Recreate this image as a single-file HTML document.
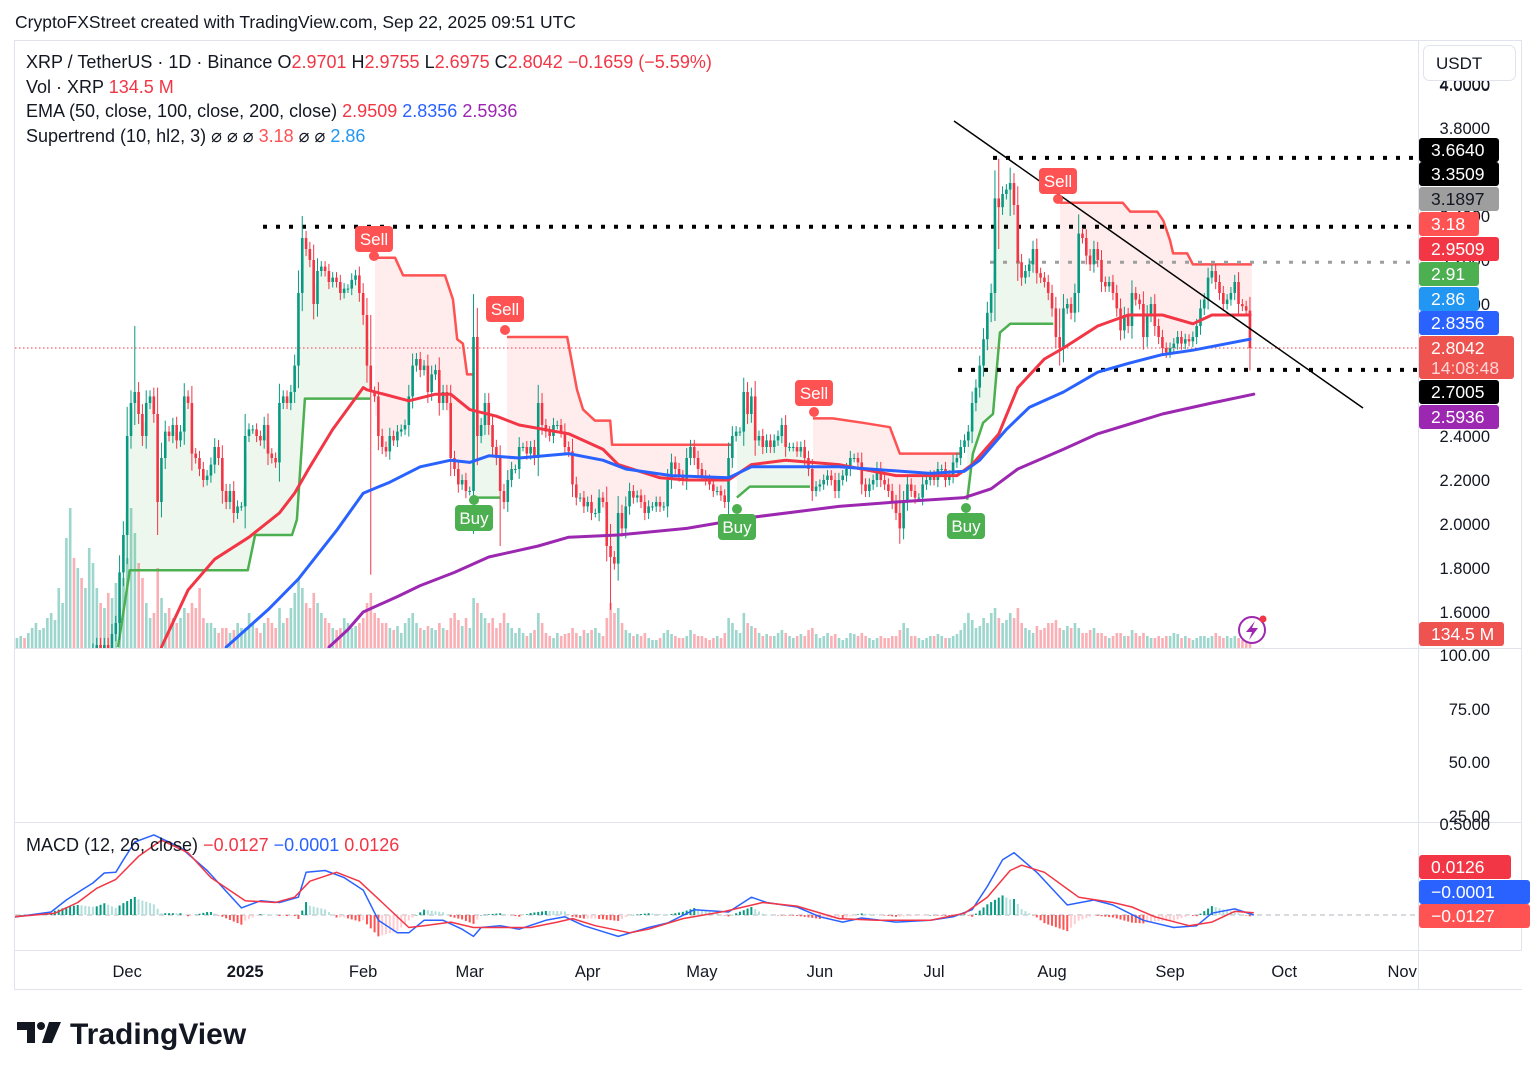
<!DOCTYPE html>
<html><head><meta charset="utf-8"><style>
html,body{margin:0;padding:0;background:#fff;}
body{width:1536px;height:1077px;overflow:hidden;font-family:"Liberation Sans",sans-serif;}
svg text{font-family:"Liberation Sans",sans-serif;}
</style></head><body>
<svg id="chart" width="1536" height="1077" viewBox="0 0 1536 1077" xmlns="http://www.w3.org/2000/svg">
<defs>
<clipPath id="mainClip"><rect x="15" y="40" width="1403" height="608"/></clipPath>
<clipPath id="macdClip"><rect x="15" y="822" width="1403" height="128"/></clipPath>
</defs>
<text x="15" y="28" font-size="17.5" fill="#131722">CryptoFXStreet created with TradingView.com, Sep 22, 2025 09:51 UTC</text>
<rect x="14.5" y="40.5" width="1507" height="949" fill="none" stroke="#e0e3eb"/>
<line x1="1418.5" y1="40" x2="1418.5" y2="990" stroke="#e0e3eb"/>
<line x1="15" y1="648.5" x2="1522" y2="648.5" stroke="#e0e3eb"/>
<line x1="15" y1="822.5" x2="1522" y2="822.5" stroke="#e0e3eb"/>
<line x1="15" y1="950.5" x2="1522" y2="950.5" stroke="#e0e3eb"/>
<g id="axisG"></g>
<g id="mainG" clip-path="url(#mainClip)"></g>
<g id="macdG" clip-path="url(#macdClip)"></g>
<g id="badgeG"></g>
<g id="legendG"></g>
<g>
<path d="M17 1022 H35 V1043 H27 V1030 H17 Z" fill="#131722"/>
<circle cx="41" cy="1026" r="4" fill="#131722"/>
<path d="M49 1022 H61 L52 1043 H42 Z" fill="#131722"/>
<text x="70" y="1044" font-size="30" font-weight="bold" fill="#131722">TradingView</text>
</g>
</svg>
<script>
// ---------- DATA ----------
const nov=[0.50,0.50,0.51,0.50,0.51,0.54,0.55,0.56,0.60,0.62,0.65,0.68,0.72,0.73,0.90,1.10,1.05,1.15,1.10,1.10,1.25,1.40,1.45,1.40,1.45,1.40,1.50,1.55,1.78,1.95];
const dec=[2.40,2.55,2.60,2.50,2.40,2.55,2.58,2.50,2.10,2.30,2.42,2.40,2.45,2.38,2.42,2.58,2.55,2.32,2.30,2.25,2.20,2.22,2.27,2.35,2.30,2.15,2.10,2.15,2.05,2.08,2.08];
const jan=[2.40,2.43,2.43,2.40,2.38,2.45,2.32,2.30,2.28,2.55,2.58,2.55,2.60,2.72,3.05,3.30,3.25,3.20,3.00,3.15,3.17,3.15,3.10,3.12,3.10,3.05,3.07,3.07,3.11,3.13,3.05];
const feb=[2.95,2.72,2.60,2.58,2.40,2.35,2.33,2.40,2.38,2.42,2.43,2.45,2.58,2.72,2.75,2.70,2.72,2.60,2.68,2.70,2.55,2.60,2.55,2.30,2.25,2.18,2.20,2.15];
const mar=[2.15,2.85,2.40,2.45,2.55,2.45,2.35,2.30,2.15,2.10,2.20,2.25,2.25,2.35,2.35,2.32,2.35,2.30,2.55,2.45,2.42,2.40,2.45,2.45,2.42,2.35,2.33,2.18,2.12,2.12,2.08];
const apr=[2.10,2.05,2.05,2.12,2.10,1.90,1.85,1.82,2.05,1.98,2.08,2.15,2.12,2.13,2.10,2.05,2.08,2.08,2.10,2.08,2.08,2.20,2.28,2.25,2.22,2.20,2.30,2.35,2.30,2.25];
const may=[2.22,2.20,2.18,2.15,2.15,2.13,2.10,2.30,2.40,2.42,2.42,2.60,2.50,2.58,2.38,2.40,2.35,2.38,2.35,2.38,2.40,2.45,2.35,2.35,2.35,2.33,2.35,2.30,2.25,2.15,2.17];
const jun=[2.18,2.20,2.22,2.20,2.15,2.20,2.22,2.25,2.30,2.30,2.28,2.18,2.15,2.18,2.20,2.25,2.20,2.18,2.15,2.10,2.05,1.98,2.10,2.18,2.15,2.12,2.12,2.18,2.20,2.22];
const jul=[2.20,2.25,2.25,2.20,2.22,2.28,2.30,2.35,2.38,2.42,2.55,2.62,2.72,2.84,2.96,3.05,3.48,3.44,3.50,3.52,3.55,3.45,3.19,3.12,3.15,3.18,3.25,3.14,3.12,3.10,3.05];
const aug=[2.98,2.85,2.80,2.98,3.00,2.96,3.05,3.32,3.30,3.22,3.18,3.25,3.20,3.10,3.08,3.10,3.05,2.98,2.88,2.95,2.90,3.05,3.02,3.00,2.85,2.95,3.00,2.90,2.85,2.80,2.78];
const sep=[2.80,2.82,2.85,2.82,2.84,2.83,2.85,2.90,2.98,3.02,3.12,3.15,3.10,3.05,3.00,3.02,3.05,3.10,3.00,2.99,2.97,2.80];
const closes=[].concat(nov,dec,jan,feb,mar,apr,may,jun,jul,aug,sep);
// notable wick extremes: [dayIndex, high, low]
const extremes=[[32,2.90,2.45],[38,2.52,1.95],[76,3.40,3.10],[94,2.95,1.77],[121,3.00,2.10],[128,2.30,1.90],[138,2.59,2.30],[157,2.00,1.61],[233,2.18,1.91],[259,3.66,3.25],[262,3.62,3.40],[275,2.98,2.72],[325,2.9755,2.6975]];
const volumes=[8,10,12,10,15,20,25,18,20,30,35,28,60,45,110,140,90,80,70,60,100,85,60,45,40,55,50,65,40,70,
90,140,115,85,70,45,30,35,80,50,35,40,30,25,30,40,35,45,40,60,30,25,25,20,15,20,20,15,18,25,20,
20,35,25,20,15,25,30,25,20,40,25,30,40,55,70,60,45,40,55,45,35,30,25,20,18,20,30,25,20,22,25,
30,45,55,35,30,25,25,20,18,22,15,25,30,35,25,20,18,22,20,18,25,20,18,30,35,28,22,30,
20,50,45,35,30,25,30,20,25,35,25,20,15,20,15,12,15,18,35,25,15,12,10,15,12,14,15,20,15,12,18,
15,18,20,15,12,30,45,35,40,25,18,15,12,14,12,15,10,8,8,10,15,18,14,12,10,10,12,18,14,12,
12,10,8,10,12,10,15,30,25,18,15,35,25,22,20,15,12,14,12,12,15,18,15,12,10,12,14,12,18,20,14,
10,12,15,12,14,10,8,10,15,14,12,15,12,10,8,10,12,10,10,12,12,18,25,20,12,12,10,8,10,12,
12,14,12,10,10,12,14,18,25,35,28,20,22,30,25,35,40,30,25,28,35,30,40,25,20,18,15,22,18,20,25,
25,28,20,18,22,20,25,20,15,15,18,20,15,15,12,10,12,15,15,12,12,18,15,12,15,12,10,10,12,10,12,
12,15,14,10,12,10,8,10,12,12,10,12,15,12,10,12,10,12,10,8,8,12];
const ema50Days=[39,46,53,62,70,74,78,84,92,93,104,111,115,120,127,133,146,155,159,170,177,188,194,203,217,232,248,252,259,264,271,276,285,293,302,310,315,325];
const ema50Vals=[1.44,1.70,1.84,1.94,2.05,2.14,2.26,2.43,2.62,2.61,2.56,2.59,2.59,2.52,2.49,2.45,2.41,2.34,2.27,2.21,2.20,2.20,2.27,2.29,2.27,2.22,2.22,2.27,2.41,2.62,2.75,2.80,2.90,2.95,2.95,2.91,2.95,2.95];
const ema100Days=[56,67,75,85,92,99,107,115,120,125,133,146,155,161,173,188,194,217,241,250,254,261,267,276,285,293,302,310,325];
const ema100Vals=[1.44,1.61,1.75,1.97,2.14,2.19,2.26,2.29,2.28,2.31,2.30,2.32,2.29,2.25,2.22,2.21,2.26,2.26,2.23,2.24,2.29,2.43,2.53,2.60,2.69,2.73,2.77,2.79,2.84];
const ema200Days=[83,88,92,101,107,116,125,138,146,159,177,194,217,232,250,257,264,276,285,302,315,326];
const ema200Vals=[1.44,1.52,1.60,1.67,1.72,1.78,1.85,1.90,1.94,1.95,1.98,2.03,2.08,2.10,2.12,2.16,2.25,2.34,2.41,2.50,2.55,2.59];
const stUp1Days=[27.6,30.7,61.7,63.6,73.3,74.6,76.7,93.8], stUp1Vals=[1.44,1.79,1.79,1.95,1.95,2.02,2.57,2.57];
const stDn1Days=[95.1,100.4,102.5,113.5,115.6,116.7,118.2,119.3,120.9], stDn1Vals=[3.21,3.21,3.13,3.13,3.02,2.84,2.82,2.68,2.68];
const stUp2Days=[120.9,128], stUp2Vals=[2.12,2.12];
const stDn2Days=[129.8,145.6,148.2,149.8,152.9,156.9,157.4,188.9], stDn2Vals=[2.85,2.85,2.61,2.52,2.47,2.47,2.36,2.36];
const stUp3Days=[190.2,193.6,209.4], stUp3Vals=[2.12,2.17,2.17];
const stDn3Days=[210.2,215.4,223.3,230.4,233,248.8], stDn3Vals=[2.48,2.48,2.46,2.44,2.32,2.32];
const stUp4Days=[250.7,252.2,254.9,257.5,259.3,262,273.3], stUp4Vals=[2.11,2.32,2.46,2.50,2.87,2.91,2.91];
const stDn4Days=[275.1,291.6,293.5,300.6,302.2,304,304.8,308.5,310,325.5], stDn4Vals=[3.46,3.46,3.42,3.42,3.38,3.29,3.23,3.23,3.18,3.18];
const macdDays=[0.5,10,14,18,21,24,27,29,32,37,44,51,60,65,70,75,77,82,87,92,96,101,104,108,113,118,121,123,128,133,140,145,150,156,159,167,172,179,188,194,198,206,212,218,223,232,241,247,252,256,260,263,269,277,284,289,297,305,311,315,321,326];
const macdVals=[-0.011,0.017,0.084,0.14,0.18,0.236,0.24,0.31,0.41,0.45,0.38,0.25,0.04,0.08,0.07,0.10,0.24,0.25,0.21,0.14,-0.03,-0.10,-0.10,-0.03,-0.03,-0.08,-0.12,-0.07,-0.06,-0.08,-0.03,-0.01,-0.06,-0.10,-0.12,-0.07,-0.045,0.03,0.017,0.10,0.07,0.045,-0.01,-0.04,-0.017,-0.04,-0.03,-0.01,0.03,0.16,0.31,0.35,0.24,0.056,0.084,0.056,-0.03,-0.07,-0.06,0.01,0.034,0.0];
const signalDays=[0.5,11,17,22,27,33,39,46,52,61,69,74,78,85,91,97,104,108,115,121,130,136,143,147,153,162,167,176,187,197,206,217,227,241,250,256,262,265,271,280,289,294,300,309,315,321,326];
const signalVals=[-0.01,0.01,0.07,0.15,0.20,0.33,0.42,0.35,0.21,0.08,0.07,0.10,0.19,0.24,0.19,0.07,-0.07,-0.06,-0.04,-0.07,-0.07,-0.07,-0.04,-0.02,-0.06,-0.10,-0.08,-0.02,0.02,0.07,0.05,-0.02,-0.03,-0.03,0.01,0.10,0.25,0.28,0.24,0.10,0.07,0.045,-0.01,-0.06,-0.04,0.02,0.013];
const priceTicks=[1.6,1.8,2.0,2.2,2.4,2.6,2.8,3.0,3.2,3.4,3.6,3.8,4.0];
const monthLabels=["Dec","2025","Feb","Mar","Apr","May","Jun","Jul","Aug","Sep","Oct","Nov"];
const monthDays=[30,61,92,120,151,181,212,242,273,304,334,365];
const levelPrices=[3.664,3.3509,3.1897,2.7005];

// ---------- SCALES ----------
const NS="http://www.w3.org/2000/svg";
function xOf(d){return 13+d*3.806;}
function yOf(p){return 128+(3.8-p)*220;}
function yMacd(m){return 915-m*178;}
function mk(tag,attrs,parent){const e=document.createElementNS(NS,tag);for(const k in attrs)e.setAttribute(k,attrs[k]);parent.appendChild(e);return e;}
const mainG=document.getElementById('mainG'),macdG=document.getElementById('macdG'),axisG=document.getElementById('axisG'),badgeG=document.getElementById('badgeG'),legendG=document.getElementById('legendG');
const UP="#089981",DN="#f23645";

const opens=closes.map((c,i)=>i===0?c:closes[i-1]);
const highs=closes.map((c,i)=>Math.max(c,opens[i])+0.02+0.25*Math.abs(c-opens[i]));
const lows=closes.map((c,i)=>Math.min(c,opens[i])-0.02-0.25*Math.abs(c-opens[i]));
extremes.forEach(e=>{highs[e[0]]=Math.max(highs[e[0]],e[1]);lows[e[0]]=Math.min(lows[e[0]],e[2]);});

// volume
const volG=mk('g',{},mainG);


volumes.forEach((v,i)=>{
 const up=closes[i]>=opens[i];
 const r=mk('rect',{x:xOf(i)-1.2,y:648-v,width:2.6,height:v,fill:up?"rgba(8,153,129,0.4)":"rgba(242,54,69,0.4)"},volG);
 
 
});

// supertrend fills + lines
const segs=[[stUp1Days,stUp1Vals,1],[stDn1Days,stDn1Vals,0],[stUp2Days,stUp2Vals,1],[stDn2Days,stDn2Vals,0],[stUp3Days,stUp3Vals,1],[stDn3Days,stDn3Vals,0],[stUp4Days,stUp4Vals,1],[stDn4Days,stDn4Vals,0]];
function hl2(d){d=Math.max(0,Math.min(closes.length-1,d));return (opens[d]+closes[d])/2;}
segs.forEach(s=>{
 const [ds,vs,up]=s;
 const pts=ds.map((d,i)=>xOf(d).toFixed(1)+','+yOf(vs[i]).toFixed(1));
 const d0=ds[0],d1=ds[ds.length-1];
 pts.push(xOf(d1).toFixed(1)+','+yOf(hl2(Math.floor(d1))).toFixed(1));
 for(let d=Math.floor(d1);d>=Math.ceil(d0);d--){pts.push(xOf(d).toFixed(1)+','+yOf(hl2(d)).toFixed(1));}
 pts.push(xOf(d0).toFixed(1)+','+yOf(hl2(Math.ceil(d0))).toFixed(1));
 const f=mk('polygon',{points:pts.join(' '),fill:up?"rgba(76,175,80,0.1)":"rgba(255,82,82,0.1)"},mainG);
 
 
});
segs.forEach(s=>{
 const [ds,vs,up]=s;
 const l=mk('polyline',{points:ds.map((d,i)=>xOf(d).toFixed(1)+','+yOf(vs[i]).toFixed(1)).join(' '),fill:'none',stroke:up?'#4caf50':'#ff5252','stroke-width':2.5,'stroke-linejoin':'round'},mainG);
 
 
});

// horizontal levels
[[levelPrices[0],993,'#000',4],[levelPrices[1],263,'#000',4],[levelPrices[2],990,'#9e9e9e',3],[levelPrices[3],958,'#000',4]].forEach((lv,i)=>{
 const l=mk('line',{x1:lv[1],y1:yOf(lv[0]),x2:1418,y2:yOf(lv[0]),stroke:lv[2],'stroke-width':lv[3],'stroke-dasharray':'4 9'},mainG);
 
 
});
const cur=mk('line',{x1:15,y1:yOf(closes[closes.length-1]),x2:1418,y2:yOf(closes[closes.length-1]),stroke:'#f23645','stroke-width':1,'stroke-dasharray':'1.5 2.5'},mainG);



// candles
const cG=mk('g',{},mainG);


closes.forEach((c,i)=>{
 const o=opens[i],up=c>=o,col=up?UP:DN,x=xOf(i);
 const w=mk('line',{x1:x,x2:x,y1:yOf(highs[i]),y2:yOf(lows[i]),stroke:col,'stroke-width':1},cG);
 
 
 const yt=yOf(Math.max(o,c)),yb=yOf(Math.min(o,c));
 const b=mk('rect',{x:x-1.3,y:yt,width:2.6,height:Math.max(1,yb-yt),fill:col},cG);
 
 
});

// EMAs
[[ema50Days,ema50Vals,'#f23645','ema-50-line'],[ema100Days,ema100Vals,'#2962ff','ema-100-line'],[ema200Days,ema200Vals,'#9c27b0','ema-200-line']].forEach(e=>{
 const l=mk('polyline',{points:e[0].map((d,i)=>xOf(d).toFixed(1)+','+yOf(e[1][i]).toFixed(1)).join(' '),fill:'none',stroke:e[2],'stroke-width':3,'stroke-linejoin':'round','stroke-linecap':'round'},mainG);
 
 
});

// trend line
const tl=mk('line',{x1:954,y1:121,x2:1363,y2:408,stroke:'#000','stroke-width':1.5},mainG);



// buy/sell labels
[['Sell',374,239,256,0],['Sell',505,309,330,0],['Sell',814,393,412,0],['Sell',1058,181,199,0],['Buy',474,518,500,1],['Buy',737,527,509,1],['Buy',966,526,508,1]].forEach(s=>{
 const [t,cx,cy,py,buy]=s;const col=buy?'#4caf50':'#ff5252';
 const g=mk('g',{},mainG);
 
 
 mk('circle',{cx:cx,cy:py,r:5,fill:col},g);
 mk('rect',{x:cx-19,y:cy-13,width:38,height:26,rx:4,fill:col},g);
 const tx=mk('text',{x:cx,y:cy+6,'text-anchor':'middle','font-size':17,fill:'#fff'},g);tx.textContent=t;
});

// lightning icon
const li=mk('g',{},mainG);


mk('circle',{cx:1252,cy:630,r:13,fill:'#fff',stroke:'#9c27b0','stroke-width':2},li);
mk('path',{d:'M1255 621 L1246 632 L1252 632 L1249 640 L1258 628 L1252 628 Z',fill:'#9c27b0'},li);
mk('circle',{cx:1263,cy:619,r:3.5,fill:'#f23645'},li);

// MACD
const zl=mk('line',{x1:15,x2:1418,y1:915,y2:915,stroke:'#b2b5be','stroke-dasharray':'5 4'},macdG);


function interp(ds,vs,d){if(d<=ds[0])return vs[0];for(let i=1;i<ds.length;i++){if(d<=ds[i]){const t=(d-ds[i-1])/(ds[i]-ds[i-1]);return vs[i-1]+t*(vs[i]-vs[i-1]);}}return vs[vs.length-1];}
let prevH=0;
for(let d=1;d<=325;d++){
 const h=interp(macdDays,macdVals,d)-interp(signalDays,signalVals,d);
 let col;if(h>=0)col=h>=prevH?'#089981':'#b2dfdb';else col=h<prevH?'#ff5252':'#ffcdd2';
 const y0=915,y1=yMacd(h);
 const r=mk('rect',{x:xOf(d)-1,y:Math.min(y0,y1),width:2,height:Math.max(0.5,Math.abs(y1-y0)),fill:col},macdG);
 
 
 prevH=h;
}
[[macdDays,macdVals,'#2962ff','macd-line'],[signalDays,signalVals,'#f23645','macd-signal-line']].forEach(e=>{
 const l=mk('polyline',{points:e[0].map((d,i)=>xOf(d).toFixed(1)+','+yMacd(e[1][i]).toFixed(1)).join(' '),fill:'none',stroke:e[2],'stroke-width':1.5,'stroke-linejoin':'round'},macdG);
 
 
});

// axes
priceTicks.forEach(p=>{
 const y=yOf(p);if(y<80||y>640)return;
 const t=mk('text',{x:1490,y:y+6,'text-anchor':'end','font-size':16.5,fill:'#131722'},axisG);t.textContent=p.toFixed(4);
 
 
});
[['100.00',655],['75.00',709],['50.00',762],['25.00',816]].forEach(a=>{
 const t=mk('text',{x:1490,y:a[1]+6,'text-anchor':'end','font-size':16.5,fill:'#131722'},axisG);t.textContent=a[0];
 
 
});
{const t=mk('text',{x:1490,y:830,'text-anchor':'end','font-size':16.5,fill:'#131722'},axisG);t.textContent='0.5000';

}
monthLabels.forEach((m,i)=>{
 const x=xOf(monthDays[i]);
 const t=mk('text',{x:x,y:977,'text-anchor':'middle','font-size':16.5,fill:'#131722','font-weight':m==='2025'?'bold':'normal'},axisG);t.textContent=m;
 
 
});
mk('rect',{x:1419,y:951,width:103,height:38,fill:'#fff'},axisG);
{const t=mk('text',{x:1490,y:91,'text-anchor':'end','font-size':16.5,fill:'#131722'},axisG);t.textContent='4.0000';
}
{const g=mk('g',{},axisG);
mk('rect',{x:1423.5,y:45.5,width:92,height:35,rx:6,fill:'#fff',stroke:'#e0e3eb'},g);
const t=mk('text',{x:1436,y:69,'font-size':17,fill:'#131722'},g);t.textContent='USDT';}

// badges
[['3.6640',138,80,'#000','#fff'],['3.3509',162,80,'#000','#fff'],['3.1897',187,80,'#9e9e9e','#131722'],['3.18',212,60,'#ff5252','#fff'],['2.9509',237,80,'#f23645','#fff'],['2.91',262,60,'#4caf50','#fff'],['2.86',287,60,'#2196f3','#fff'],['2.8356',311,80,'#2962ff','#fff'],['2.7005',380,80,'#000','#fff'],['2.5936',405,80,'#9c27b0','#fff'],['134.5 M',622,85,'#ef5350','#fff'],['0.0126',855,92,'#f23645','#fff'],['\u22120.0001',880,111,'#2962ff','#fff'],['\u22120.0127',904,111,'#ff5252','#fff']].forEach(b=>{
 const g=mk('g',{},badgeG);
 
 
 mk('rect',{x:1419,y:b[1],width:b[2],height:24,rx:3,fill:b[3]},g);
 const t=mk('text',{x:1431,y:b[1]+18,'font-size':17.5,fill:b[4]},g);t.textContent=b[0];
});
{const g=mk('g',{},badgeG);
mk('rect',{x:1419,y:336,width:95,height:43,rx:3,fill:'#ef5350'},g);
let t=mk('text',{x:1431,y:354,'font-size':17.5,fill:'#fff'},g);t.textContent='2.8042';
t=mk('text',{x:1431,y:374,'font-size':17.5,fill:'#ffd6d6'},g);t.textContent='14:08:48';}

// legends
function legend(y,parts,name){
 const t=mk('text',{x:26,y:y,'font-size':18,fill:'#131722'},legendG);
 
 
 parts.forEach(p=>{const s=mk('tspan',{fill:p[1]||'#131722'},t);s.textContent=p[0];});
}
const R='#f23645';
legend(68,[['XRP / TetherUS · 1D · Binance  O'],['2.9701',R],['  H'],['2.9755',R],['  L'],['2.6975',R],['  C'],['2.8042',R],['  \u22120.1659 (\u22125.59%)',R]],'symbol-legend');
legend(93,[['Vol · XRP  '],['134.5 M',R]],'volume-legend');
legend(117,[['EMA (50, close, 100, close, 200, close)  '],['2.9509',R],['  '],['2.8356','#2962ff'],['  '],['2.5936','#9c27b0']],'ema-legend');
legend(142,[['Supertrend (10, hl2, 3)  \u2300  \u2300  \u2300  '],['3.18','#ff5252'],['  \u2300  \u2300  '],['2.86','#2196f3']],'supertrend-legend');
legend(851,[['MACD (12, 26, close)  '],['\u22120.0127',R],['  '],['\u22120.0001','#2962ff'],['  '],['0.0126',R]],'macd-legend');
</script>
</body></html>
